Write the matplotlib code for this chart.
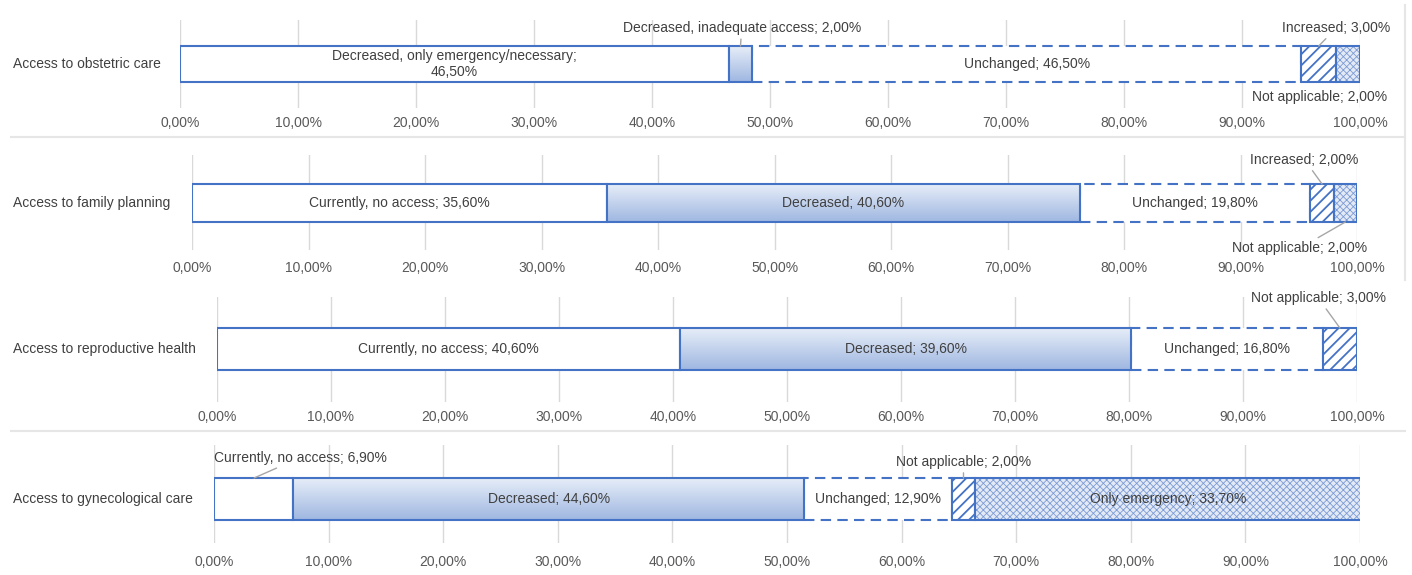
import numpy as np
import matplotlib
matplotlib.use("Agg")
import matplotlib.pyplot as plt
from matplotlib.colors import LinearSegmentedColormap

plt.rcParams['font.family'] = ['Liberation Sans', 'DejaVu Sans']
plt.rcParams['hatch.linewidth'] = 1.3

# data, one list per panel (segments left to right, in %)
categories = ["Access to obstetric care", "Access to family planning",
              "Access to reproductive health", "Access to gynecological care"]

segments_obstetric = ["Decreased, only emergency/necessary", "Decreased, inadequate access",
                      "Unchanged", "Increased", "Not applicable"]
values_obstetric = [46.5, 2.0, 46.5, 3.0, 2.0]

segments_family = ["Currently, no access", "Decreased", "Unchanged", "Increased", "Not applicable"]
values_family = [35.6, 40.6, 19.8, 2.0, 2.0]

segments_reproductive = ["Currently, no access", "Decreased", "Unchanged", "Not applicable"]
values_reproductive = [40.6, 39.6, 16.8, 3.0]

segments_gyneco = ["Currently, no access", "Decreased", "Unchanged", "Not applicable", "Only emergency"]
values_gyneco = [6.9, 44.6, 12.9, 2.0, 33.7]

x_ticks = [0, 10, 20, 30, 40, 50, 60, 70, 80, 90, 100]

BLUE = "#4472c4"
TEXT = "#404040"
TICK = "#595959"
GRID = "#d9d9d9"

W, H = 1412, 575
fig = plt.figure(figsize=(W / 100, H / 100), dpi=100)

# panel boxes in pixels: x0, x1, axes top, axes bottom, bar top, bar bottom, tick pad
boxes = [
    (180, 1360, 20, 108, 46, 82, 6),
    (192, 1357, 155, 250, 184, 222, 8),
    (217, 1357, 297, 402, 328, 370, 6),
    (214, 1360, 445, 543, 478, 520, 9),
]

# outside labels: panel -> {segment index: (text x %, text y axes, point x %, point side)}
outside = {
    0: {1: (47.6, 0.91, 47.5, "top"), 3: (98.0, 0.91, 96.5, "top"), 4: (96.6, 0.13, None, None)},
    1: {3: (95.5, 0.95, 97.0, "top"), 4: (95.1, 0.02, 99.0, "bottom")},
    2: {3: (96.6, 0.99, 98.5, "top")},
    3: {0: (7.5, 0.87, 3.5, "top"), 3: (65.4, 0.83, 65.4, "top")},
}

all_segments = [segments_obstetric, segments_family, segments_reproductive, segments_gyneco]
all_values = [values_obstetric, values_family, values_reproductive, values_gyneco]

grad_cmap = LinearSegmentedColormap.from_list("grad", ["#e6edf8", "#9fb7e1"])


def pct(v):
    return f"{v:.2f}".replace(".", ",") + "%"


for p, (x0, x1, yt, yb, bt, bb, pad) in enumerate(boxes):
    ax = fig.add_axes([x0 / W, 1 - yb / H, (x1 - x0) / W, (yb - yt) / H])
    yc = 1 - ((bt + bb) / 2 - yt) / (yb - yt)
    bh = (bb - bt) / (yb - yt)
    names = all_segments[p]
    vals = all_values[p]
    lefts = np.concatenate([[0], np.cumsum(vals)[:-1]])

    for i, (name, v, l) in enumerate(zip(names, vals, lefts)):
        if i == 0:
            ax.barh(yc, v, left=l, height=bh, color="white", edgecolor=BLUE, lw=1.5, zorder=3)
        elif i == 1:
            bar = ax.barh(yc, v, left=l, height=bh, color="none", edgecolor=BLUE, lw=1.5, zorder=4)[0]
            grad = np.linspace(0, 1, 100).reshape(-1, 1)
            im = ax.imshow(grad, extent=[l, l + v, yc - bh / 2, yc + bh / 2], aspect="auto",
                           cmap=grad_cmap, zorder=3, origin="upper")
            im.set_clip_path(bar)
        elif i == 2:
            ax.barh(yc, v, left=l, height=bh, color="white", edgecolor=BLUE, lw=1.5,
                    linestyle=(0, (5, 3)), zorder=2)
        elif i == 3:
            ax.barh(yc, v, left=l, height=bh, color="white", edgecolor=BLUE, lw=1.5,
                    hatch="///", zorder=3)
        else:
            with plt.rc_context({"hatch.linewidth": 0.6}):
                ax.barh(yc, v, left=l, height=bh, color="#e3eaf6", edgecolor="#7c9bd4", lw=0,
                        hatch="xxxxx", zorder=3)
            ax.barh(yc, v, left=l, height=bh, color="none", edgecolor=BLUE, lw=1.5, zorder=4)

        label = f"{name}; {pct(v)}"
        if i in outside.get(p, {}):
            tx, ty, px, side = outside[p][i]
            if px is None:
                ax.text(tx, ty, label, ha="center", va="center", fontsize=10, color=TEXT, zorder=6)
            else:
                py = yc + bh / 2 if side == "top" else yc - bh / 2
                ax.annotate(label, xy=(px, py), xytext=(tx, ty), ha="center", va="center",
                            fontsize=10, color=TEXT, zorder=6,
                            arrowprops=dict(arrowstyle="-", color="#a6a6a6", lw=1,
                                            shrinkA=1, shrinkB=0))
        else:
            if p == 0 and i == 0:
                label = f"{name};\n{pct(v)}"
            ax.text(l + v / 2, yc, label, ha="center", va="center", fontsize=10,
                    color=TEXT, zorder=6, linespacing=1.1)

    ax.set_xlim(0, 100)
    ax.set_ylim(0, 1)
    ax.set_xticks(x_ticks)
    ax.set_xticklabels([pct(t) for t in x_ticks])
    ax.tick_params(axis="x", length=0, pad=pad, labelsize=10, labelcolor=TICK)
    ax.set_yticks([])
    ax.grid(axis="x", color=GRID, lw=1, zorder=0)
    ax.set_axisbelow(True)
    for s in ax.spines.values():
        s.set_visible(False)

    fig.text(13 / W, 1 - ((bt + bb) / 2) / H, categories[p], ha="left", va="center",
             fontsize=10, color=TEXT)

# light separators between the pasted panels
for ysep in [137, 431]:
    fig.add_artist(plt.Line2D([0.008, 0.995], [1 - ysep / H] * 2, color="#e6e6e6", lw=1.5))
fig.add_artist(plt.Line2D([1405 / W] * 2, [1 - 5 / H, 1 - 280 / H], color="#e6e6e6", lw=1.5))

fig.savefig("out.png", dpi=100)
